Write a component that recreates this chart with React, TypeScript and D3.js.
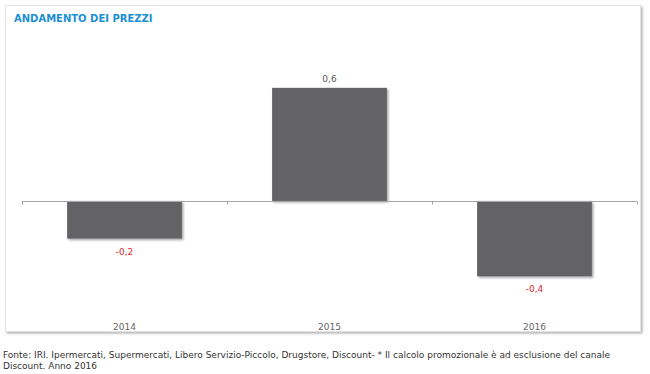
import React, { useEffect, useRef } from "react";
import * as d3 from "d3";

const years = ["2014", "2015", "2016"];
const values = [-0.2, 0.6, -0.4];
const valueLabels = ["-0,2", "0,6", "-0,4"];

const W = 650;
const H = 374;

export default function App() {
  const ref = useRef<SVGSVGElement>(null);

  useEffect(() => {
    const svg = d3.select(ref.current);
    svg.selectAll("*").remove();

    const font = "Verdana, 'DejaVu Sans', sans-serif";
    const left = 22;
    const right = 637;

    // shadow filters
    const defs = svg.append("defs");
    const f = defs.append("filter").attr("id", "sh").attr("x", "-5%").attr("y", "-5%").attr("width", "115%").attr("height", "115%");
    f.append("feDropShadow").attr("dx", 1.5).attr("dy", 1.5).attr("stdDeviation", 1.2).attr("flood-color", "#000").attr("flood-opacity", 0.35);

    const b = defs.append("filter").attr("id", "boxsh").attr("x", "-2%").attr("y", "-2%").attr("width", "104%").attr("height", "106%");
    b.append("feDropShadow").attr("dx", 1.5).attr("dy", 1.5).attr("stdDeviation", 1).attr("flood-color", "#000").attr("flood-opacity", 0.3);

    // chart box
    svg
      .append("rect")
      .attr("x", 5.5)
      .attr("y", 5.5)
      .attr("width", 635)
      .attr("height", 326)
      .attr("fill", "#fff")
      .attr("stroke", "#e4e4e4")
      .attr("filter", "url(#boxsh)");

    svg
      .append("text")
      .attr("x", 14)
      .attr("y", 22)
      .attr("fill", "#1b8fd2")
      .style("font-family", font)
      .style("font-size", "10px")
      .style("font-weight", "bold")
      .text("ANDAMENTO DEI PREZZI");

    const x = d3.scaleBand().domain(years).range([left, right]).paddingInner(0.44).paddingOuter(0.22);
    const y = d3.scaleLinear().domain([-0.6, 0.7]).range([314, 69]);
    const y0 = Math.round(y(0)) + 0.5;

    // bars
    svg
      .selectAll(".bar")
      .data(values)
      .join("rect")
      .attr("class", "bar")
      .attr("x", (d, i) => x(years[i])!)
      .attr("y", (d) => y(Math.max(0, d)))
      .attr("width", x.bandwidth())
      .attr("height", (d) => Math.abs(y(d) - y(0)))
      .attr("fill", "#636466")
      .attr("filter", "url(#sh)");

    // zero line
    svg.append("line").attr("x1", left).attr("x2", right).attr("y1", y0).attr("y2", y0).attr("stroke", "#a6a6a6");

    // ticks at band edges
    const edges = d3.range(years.length + 1).map((i) => left + i * x.step() - x.step() * 0 + (i === 0 ? 0 : 0));
    svg
      .selectAll(".tick")
      .data(edges.map((e, i) => left + (i * (right - left)) / years.length))
      .join("line")
      .attr("x1", (d) => Math.round(d) + 0.5)
      .attr("x2", (d) => Math.round(d) + 0.5)
      .attr("y1", y0)
      .attr("y2", y0 + 3)
      .attr("stroke", "#a6a6a6");

    // value labels
    svg
      .selectAll(".vl")
      .data(values)
      .join("text")
      .attr("x", (d, i) => x(years[i])! + x.bandwidth() / 2)
      .attr("y", (d) => (d >= 0 ? y(d) - 6 : y(d) + 16))
      .attr("text-anchor", "middle")
      .attr("fill", (d) => (d >= 0 ? "#595959" : "#e2262f"))
      .style("font-family", font)
      .style("font-size", "9px")
      .text((d, i) => valueLabels[i]);

    // category labels
    svg
      .selectAll(".cl")
      .data(years)
      .join("text")
      .attr("x", (d) => x(d)! + x.bandwidth() / 2)
      .attr("y", 330)
      .attr("text-anchor", "middle")
      .attr("fill", "#666")
      .style("font-family", font)
      .style("font-size", "9px")
      .text((d) => d);

    // source note
    const note = svg
      .append("text")
      .attr("fill", "#333")
      .style("font-family", font)
      .style("font-size", "9px");
    note
      .append("tspan")
      .attr("x", 3)
      .attr("y", 358)
      .text("Fonte: IRI. Ipermercati, Supermercati, Libero Servizio-Piccolo, Drugstore, Discount- * Il calcolo promozionale è ad esclusione del canale");
    note.append("tspan").attr("x", 3).attr("y", 369).text("Discount. Anno 2016");
  }, []);

  return (
    <svg
      ref={ref}
      width={W}
      height={H}
      style={{ position: "absolute", left: 0, top: 0, display: "block", background: "#fff" }}
    />
  );
}
